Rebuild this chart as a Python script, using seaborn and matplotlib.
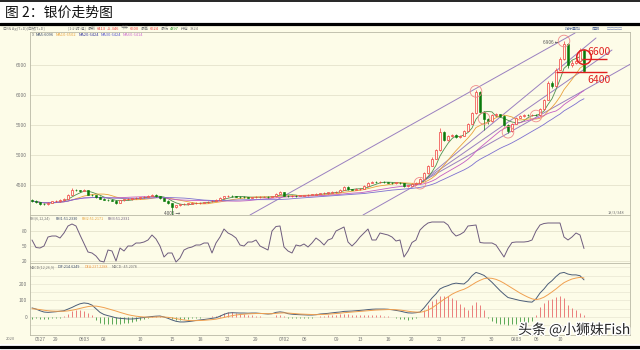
import numpy as np
import pandas as pd
import matplotlib
matplotlib.use("Agg")
import matplotlib.pyplot as plt
from matplotlib.patches import Rectangle
from matplotlib.lines import Line2D
import matplotlib.patheffects as pe
import seaborn as sns

sns.set_theme(style="white")
plt.rcParams['font.family'] = ['Noto Sans CJK SC', 'DejaVu Sans']

# ---------------- data ----------------
opens = [4250,4233,4210,4190,4183,4200,4225,4233,4245,4267,
         4340,4420,4417,4400,4410,4340,4330,4300,4270,4255,
         4250,4240,4200,4245,4260,4265,4280,4283,4295,4300,
         4320,4335,4315,4285,4240,4200,4130,4160,4180,4185,
         4190,4195,4200,4205,4215,4225,4240,4250,4280,4310,
         4320,4310,4305,4300,4295,4290,4295,4300,4300,4305,
         4300,4310,4350,4385,4320,4315,4320,4318,4322,4325,
         4335,4340,4350,4365,4368,4370,4380,4385,4420,4470,
         4430,4420,4430,4440,4490,4535,4550,4548,4552,4545,
         4540,4535,4540,4530,4485,4490,4515,4530,4600,4700,
         4820,4940,5080,5380,5250,5320,5335,5300,5320,5400,
         5520,5700,6050,5720,5600,5560,5660,5680,5650,5500,
         5400,5520,5620,5650,5665,5660,5670,5660,5760,5920,
         6200,6150,6420,6600,6850,6500,6530,6560,6750]
closes = [4233,4210,4190,4183,4200,4225,4233,4245,4267,4340,
          4420,4417,4400,4410,4340,4330,4300,4270,4255,4250,
          4240,4200,4245,4260,4265,4280,4283,4295,4300,4320,
          4335,4315,4285,4240,4200,4130,4160,4180,4185,4190,
          4195,4200,4205,4215,4225,4240,4250,4280,4310,4320,
          4310,4305,4300,4295,4290,4295,4300,4300,4305,4300,
          4310,4350,4385,4320,4315,4320,4318,4322,4325,4335,
          4340,4350,4365,4368,4370,4380,4385,4420,4470,4430,
          4420,4430,4440,4490,4535,4550,4548,4552,4545,4540,
          4535,4540,4530,4485,4490,4515,4530,4600,4700,4820,
          4940,5080,5380,5250,5320,5335,5300,5320,5400,5520,
          5700,6050,5720,5600,5560,5660,5680,5650,5500,5400,
          5520,5620,5650,5665,5660,5670,5660,5760,5920,6200,
          6150,6420,6600,6850,6500,6530,6560,6750,6400]
highs = [4265,4245,4220,4200,4215,4235,4250,4260,4280,4355,
         4450,4440,4425,4430,4415,4350,4335,4310,4280,4265,
         4260,4250,4255,4270,4280,4290,4295,4305,4315,4335,
         4350,4345,4320,4290,4250,4205,4175,4190,4200,4200,
         4210,4215,4215,4225,4235,4250,4265,4295,4325,4335,
         4330,4320,4315,4310,4305,4305,4310,4312,4315,4315,
         4320,4365,4400,4390,4330,4330,4330,4332,4335,4345,
         4350,4362,4375,4380,4382,4392,4398,4432,4485,4480,
         4440,4442,4452,4505,4550,4565,4562,4565,4560,4555,
         4550,4552,4548,4535,4505,4528,4545,4615,4720,4840,
         4960,5100,5450,5400,5340,5350,5345,5335,5415,5540,
         5720,6080,6060,5730,5620,5680,5700,5690,5660,5510,
         5535,5640,5665,5680,5678,5685,5680,5780,5940,6230,
         6240,6450,6640,6906,6860,6580,6600,6790,6760]
lows = [4220,4200,4175,4170,4175,4195,4215,4225,4240,4260,
        4335,4400,4390,4395,4330,4315,4290,4260,4245,4240,
        4230,4180,4195,4240,4250,4255,4270,4275,4285,4295,
        4310,4305,4275,4230,4190,4005,4110,4150,4170,4175,
        4180,4185,4190,4195,4205,4215,4230,4245,4275,4300,
        4300,4295,4290,4285,4280,4280,4285,4290,4292,4290,
        4292,4305,4345,4310,4305,4305,4308,4310,4312,4318,
        4328,4332,4345,4355,4358,4362,4372,4380,4415,4420,
        4410,4412,4422,4435,4485,4528,4538,4540,4535,4530,
        4525,4525,4520,4475,4470,4482,4505,4525,4595,4690,
        4810,4930,5070,5230,5240,5305,5290,5290,5315,5395,
        5515,5690,5700,5420,5520,5550,5650,5635,5480,5360,
        5390,5510,5610,5640,5645,5648,5645,5655,5750,5910,
        6120,6140,6410,6590,6450,6470,6510,6550,6380]
rsi = [62,47,46,50,68,70,70,66,76,90,
       94,90,72,55,38,36,30,20,18,42,
       40,20,46,40,50,50,56,56,58,62,
       72,64,50,28,36,36,18,26,42,46,
       48,52,52,56,56,36,56,68,84,76,
       72,66,52,50,58,58,62,50,46,42,
       80,89,90,48,40,36,52,50,54,48,
       56,66,60,52,62,65,80,84,88,58,
       50,58,68,76,84,62,62,76,74,72,
       68,60,62,28,40,57,62,82,90,96,
       98,98,98,98,92,78,70,73,78,90,
       91,92,57,56,56,56,52,40,28,45,
       57,58,58,58,59,62,80,92,95,96,
       96,96,96,68,62,68,76,72,45]
dif = [55,48,38,30,28,30,32,35,38,48,
       58,70,80,85,82,72,50,28,15,8,
       2,-5,-8,-10,-12,-12,-10,-6,-3,0,
       3,5,6,0,-8,-18,-26,-30,-30,-28,
       -25,-21,-18,-15,-12,-8,-5,5,16,24,
       26,25,24,24,23,24,24,22,20,18,
       20,28,31,28,20,17,15,14,13,12,
       12,14,18,20,22,25,28,30,34,35,
       36,38,40,42,45,47,48,48,48,47,
       44,40,36,30,25,24,26,30,55,85,
       115,140,170,182,190,200,205,202,200,220,
       250,270,262,252,232,210,185,160,138,118,
       112,106,100,96,92,90,110,145,170,200,
       220,245,265,270,260,255,255,250,225]
dea = [50,48,45,41,38,36,35,35,35,37,
       41,46,52,58,63,66,66,62,57,50,
       43,36,28,21,14,9,5,2,0,-1,
       -1,0,1,0,-2,-5,-10,-14,-18,-21,
       -22,-22,-21,-20,-18,-16,-13,-8,-3,3,
       8,12,15,17,19,20,21,21,21,20,
       20,22,24,25,24,22,20,18,17,16,
       15,14,15,16,17,19,21,23,26,28,
       30,32,34,36,38,40,42,43,44,45,
       45,44,42,39,35,32,30,29,33,42,
       55,72,90,107,122,138,150,160,168,180,
       195,210,222,232,236,234,228,218,205,190,
       175,160,145,132,120,110,105,110,120,135,
       152,170,190,208,220,230,236,240,236]
macd_hist = [-10,-8,-12,-14,-12,-8,-6,-4,5,20,
             35,42,40,35,25,10,-20,-35,-42,-45,
             -45,-42,-40,-38,-35,-30,-25,-18,-10,-5,
             5,8,8,3,-8,-15,-18,-18,-14,-12,
             -8,-5,-4,-3,3,5,8,15,22,28,
             30,26,20,16,12,10,8,4,0,-3,
             0,12,15,8,-5,-8,-8,-8,-7,-6,
             -5,0,5,8,10,12,14,16,18,16,
             12,12,12,12,14,14,12,10,8,4,
             0,-6,-10,-14,-16,-12,-8,2,40,70,
             95,110,125,130,125,115,100,80,60,45,
             70,90,70,40,-8,-25,-35,-40,-45,-48,
             -45,-42,-40,-36,-30,-22,10,60,85,100,
             110,120,130,118,75,55,40,25,10]

tick_pos = [2, 6, 13, 18, 27, 35, 42, 49, 56, 63, 68, 76, 82, 89, 95, 102, 108, 115, 121, 126, 132]
tick_labels = ["0527", "29", "0603", "08", "10", "15", "18", "22", "29", "0702", "06",
               "09", "13", "16", "20", "22", "27", "30", "0803", "06", "10"]
price_ticks = [4500, 5000, 5500, 6000, 6500]
rsi_ticks = [20, 50, 80]
macd_ticks = [0, 100, 200]
ma_windows = [5, 10, 20, 30]

# trend lines (bar index, price)
trend_x = [[54.5, 135.75], [82.75, 150.0], [97.0, 141.0], [97.0, 145.0]]
trend_y = [[4000, 7033], [4000, 6530], [4530, 6950], [4530, 6750]]
circle_x = [97, 111, 113, 119, 126, 133]
circle_y = [4530, 6060, 5610, 5380, 5650, 6900]
level_vals = [6600, 6400]
level_labels = ["6600", "6400"]

# ---------------- figure ----------------
W, H = 640, 350
CREAM = '#fdfce8'
fig = plt.figure(figsize=(6.4, 3.5), dpi=100)
fig.patch.set_facecolor('white')

def fy(y):
    return 1 - y / H

def axes_px(x0, y0, x1, y1):
    return fig.add_axes([x0 / W, 1 - y1 / H, (x1 - x0) / W, (y1 - y0) / H])

fig.add_artist(Rectangle((0, fy(344)), 1, (344 - 26) / H, transform=fig.transFigure,
                         facecolor=CREAM, edgecolor='none', zorder=0))
fig.add_artist(Line2D([0, 1], [fy(0.8), fy(0.8)], color='black', lw=1.2))
fig.add_artist(Line2D([0, 1], [fy(24), fy(24)], color='black', lw=2.3))
fig.add_artist(Line2D([0, 1], [fy(346.5), fy(346.5)], color='black', lw=2.3))
fig.text(5 / W, fy(13), "图 2：银价走势图", fontsize=10, color='#111111', va='center', ha='left')

idx = np.arange(len(closes))
XL = (-0.5, 149.5)
SP = '#b9b8a6'

ax = axes_px(30, 32, 630, 215)
ax_r = axes_px(30, 215, 630, 263)
ax_m = axes_px(30, 263, 630, 335)
for a in (ax, ax_r, ax_m):
    a.set_facecolor(CREAM)
    a.set_xlim(*XL)
    for s in a.spines.values():
        s.set_color(SP)
        s.set_linewidth(0.6)
    a.tick_params(axis='both', length=0, labelsize=3.6, colors='#777777', pad=2)
    a.set_xticks([])

# price panel
ax.set_ylim(4000, 7050)
ax.set_yticks(price_ticks)
ax.set_yticklabels([str(v) for v in price_ticks])
for v in price_ticks:
    ax.axhline(v, color='#e4e2cc', lw=0.6, zorder=0)

o = np.array(opens); c = np.array(closes); h = np.array(highs); l = np.array(lows)
up = c >= o
RED = '#f03c3c'
GRN = '#0a7a0a'
ax.vlines(idx[up], l[up], h[up], color=RED, lw=0.5, zorder=3)
ax.vlines(idx[~up], l[~up], h[~up], color=GRN, lw=0.5, zorder=3)
ax.bar(idx[up], np.maximum(c[up] - o[up], 8), bottom=o[up], width=0.6,
       facecolor=CREAM, edgecolor=RED, linewidth=0.5, zorder=4)
ax.bar(idx[~up], o[~up] - c[~up], bottom=c[~up], width=0.6,
       facecolor=GRN, edgecolor=GRN, linewidth=0.4, zorder=4)

s = pd.Series(closes, dtype=float)
ma_colors = ['#4f8f4f', '#e9a23b', '#c35dc3', '#7d6fd0']
for win, col in zip(ma_windows, ma_colors):
    sns.lineplot(x=idx, y=s.rolling(win, min_periods=1).mean().values, ax=ax,
                 color=col, lw=0.6, legend=False, zorder=2)

for tx, ty in zip(trend_x, trend_y):
    sns.lineplot(x=tx, y=ty, ax=ax, color='#9a80c0', lw=0.7, legend=False, zorder=1)

ax.scatter(circle_x, circle_y, s=70, facecolors='none', edgecolors='#f08a8a', linewidths=0.6, zorder=5)
ax.scatter([138], [6630], s=110, facecolors='none', edgecolors='#e02020', linewidths=1.1, zorder=6)
ax.hlines(level_vals[0], 137.5, 143.8, color='#e02020', lw=1.0, zorder=6)
ax.hlines(level_vals[1] - 15, 131.0, 143.8, color='#e02020', lw=1.0, zorder=6)
ax.text(138.8, level_vals[0] + 30, level_labels[0], fontsize=7.5, color='#e02020',
        ha='left', va='bottom', zorder=7)
ax.text(138.8, level_vals[1] - 60, level_labels[1], fontsize=7.5, color='#e02020',
        ha='left', va='top', zorder=7)
ax.text(131.8, 6880, "6906 ←", fontsize=3.4, color='#555555', ha='right', va='center')
ax.text(35, 4070, "4005 →", fontsize=3.4, color='#555555', ha='center', va='top')
ax.set_ylabel(''); ax.set_xlabel('')

# RSI panel
ax_r.set_ylim(16, 112)
ax_r.set_yticks(rsi_ticks)
ax_r.set_yticklabels([str(v) for v in rsi_ticks])
for v in rsi_ticks:
    ax_r.axhline(v, color='#e4e2cc', lw=0.6, zorder=0)
sns.lineplot(x=idx, y=rsi, ax=ax_r, color='#6e5c7e', lw=0.7, legend=False)
ax_r.set_ylabel(''); ax_r.set_xlabel('')

# MACD panel
ax_m.set_ylim(-109, 327)
ax_m.set_yticks(macd_ticks)
ax_m.set_yticklabels([str(v) for v in macd_ticks])
for v in [-50, 0, 50, 100, 150, 200, 250, 300]:
    ax_m.axhline(v, color='#e8e6d2', lw=0.5, zorder=0)
hist = np.array(macd_hist)
ax_m.vlines(idx[hist >= 0], 0, hist[hist >= 0], color='#e86a6a', lw=0.6)
ax_m.vlines(idx[hist < 0], hist[hist < 0], 0, color='#3f9a3f', lw=0.6)
sns.lineplot(x=idx, y=dif, ax=ax_m, color='#4b5d78', lw=0.7, legend=False)
sns.lineplot(x=idx, y=dea, ax=ax_m, color='#f0a050', lw=0.7, legend=False)
ax_m.set_xticks(tick_pos)
ax_m.set_xticklabels(tick_labels)
ax_m.tick_params(axis='x', labelsize=3.6, colors='#777777', pad=1.5, length=0)
ax_m.set_ylabel(''); ax_m.set_xlabel('')

# header texts
GR = '#777777'
def seg(x, y, t, col, fs=2.9):
    fig.text(x / W, fy(y), t, fontsize=fs, color=col, va='center', ha='left')

seg(3, 28.5, "日线 Ag(T+D)[白银T+D]", GR)
seg(68, 28.5, "[1小时 组]", GR)
seg(88, 28.5, "最新", GR); seg(97, 28.5, "6413", RED); seg(107, 28.5, "+5.346", RED)
seg(121, 28.5, "今开", GR); seg(130, 28.5, "6600", RED)
seg(141, 28.5, "最高", GR); seg(150, 28.5, "6624", RED)
seg(161, 28.5, "最低", GR); seg(170, 28.5, "4397", '#2a9a2a')
seg(181, 28.5, "持仓", GR); seg(190, 28.5, "3824", GR)
seg(565, 28.5, "指标叠加", '#5a6f9a'); seg(592, 28.5, "周期", '#5a6f9a'); seg(607, 28.5, "▢▢▢▢", '#8a9abf')

seg(32, 35.5, "X", GR)
seg(36, 35.5, "MA5:6096", '#3a4a6a'); seg(56, 35.5, "MA10:6502", '#e9a23b')
seg(79, 35.5, "MA20:6424", '#3a3aa0'); seg(101, 35.5, "MA30:6424", '#5a5ad0')
seg(123, 35.5, "MA60:6414", '#d070d0')

seg(30, 218.5, "RSI(6,12,24)", GR, 2.7); seg(56, 218.5, "RSI1:51.2330", '#3a4a6a', 2.7)
seg(82, 218.5, "RSI2:51.2171", '#e9a23b', 2.7); seg(108, 218.5, "RSI3:51.2331", '#6e5c7e', 2.7)
seg(30, 267.5, "MACD(12,26,9)", GR, 2.7); seg(58, 267.5, "DIF:214.6249", '#3a4a6a', 2.7)
seg(85, 267.5, "DEA:237.2288", '#f0a050', 2.7); seg(112, 267.5, "MACD:-45.2078", GR, 2.7)
seg(608, 212.5, "18/3/348", GR)
seg(6, 339.5, "2020", GR)

fig.text(630 / W, fy(330), "头条 @小狮妹Fish", fontsize=10, color='#262626',
         ha='right', va='center',
         path_effects=[pe.withStroke(linewidth=2.0, foreground='white')])

fig.savefig("out.png", dpi=100, facecolor='white')
